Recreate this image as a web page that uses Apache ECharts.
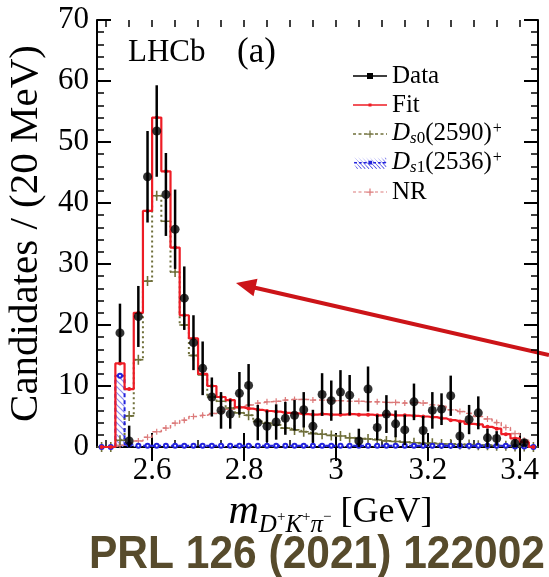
<!DOCTYPE html>
<html>
<head>
<meta charset="utf-8">
<script src="https://cdn.jsdelivr.net/npm/echarts@6/dist/echarts.min.js"></script>
<style>
  html, body { margin: 0; padding: 0; background: #fff; }
  #main { width: 549px; height: 577px; }
</style>
</head>
<body>
<div id="main"></div>
<script>
  // bin centres, 20 MeV bins
  const binCenters = [2.49, 2.51, 2.53, 2.55, 2.57, 2.59, 2.61, 2.63, 2.65, 2.67, 2.69, 2.71,
    2.73, 2.75, 2.77, 2.79, 2.81, 2.83, 2.85, 2.87, 2.89, 2.91, 2.93, 2.95,
    2.97, 2.99, 3.01, 3.03, 3.05, 3.07, 3.09, 3.11, 3.13, 3.15, 3.17, 3.19,
    3.21, 3.23, 3.25, 3.27, 3.29, 3.31, 3.33, 3.35, 3.37, 3.39, 3.41, 3.43]
  const dataVals = [null, null, 18.7, 1.0, 21.4, 44.3, 51.8, 41.4, 35.7, 24.4, 17.1, 12.9,
    8.2, 6.0, 5.4, 8.8, 10.1, 4.0, 3.4, 4.1, 4.7, 5.2, 6.1, 3.4,
    8.6, 7.6, 9.0, 8.5, 1.0, 9.5, 3.2, 5.4, 3.8, 2.8, 7.4, 2.7,
    6.0, 6.2, 8.4, 1.8, 4.5, 5.6, 1.5, 1.4, null, 0.6, 0.7, null]
  const dataErrs = [0, 0, 4.8, 2.5, 5.0, 7.5, 7.5, 6.8, 6.5, 5.2, 4.5, 4.4,
    3.2, 3.0, 2.4, 3.5, 3.5, 2.9, 2.6, 2.9, 2.7, 2.5, 2.9, 2.7,
    3.5, 3.3, 3.6, 3.3, 2.0, 3.7, 2.1, 3.1, 2.2, 2.5, 3.0, 2.4,
    3.0, 2.6, 3.3, 2.2, 2.4, 2.7, 1.5, 1.2, 0, 0.6, 0.6, 0]
  const fitVals = [0, 0, 13.7, 9.5, 22.0, 38.7, 54.0, 45.2, 32.7, 21.6, 17.8, 12.0,
    10.0, 8.2, 7.7, 6.5, 6.3, 6.1, 5.9, 5.8, 5.6, 5.5, 5.4, 5.3,
    5.4, 5.3, 5.3, 5.4, 5.3, 5.3, 5.2, 5.3, 5.2, 5.2, 5.1, 5.0,
    4.9, 4.7, 4.4, 4.2, 3.8, 3.7, 3.3, 3.0, 2.1, 1.4, 0.8, 0]
  const ds0Vals = [0, 0, 1.1, 5.1, 14.3, 27.2, 41.2, 37.0, 28.7, 20.0, 15.0, 11.8,
    8.2, 7.5, 6.4, 5.6, 5.2, 4.2, 3.9, 3.6, 3.1, 2.8, 2.5, 2.2,
    2.1, 1.9, 1.8, 1.5, 1.4, 1.3, 1.2, 1.0, 0.9, 0.8, 0.7, 0.6,
    0.6, 0.5, 0.5, 0.4, 0.4, 0.3, 0.3, 0.2, 0.2, 0.1, 0.1, 0]
  const ds1Vals = [0, 0, 11.7, 0.4, 0.2, 0.2, 0.2, 0.2, 0.2, 0.2, 0.2, 0.2,
    0.2, 0.2, 0.2, 0.2, 0.2, 0.2, 0.2, 0.2, 0.2, 0.2, 0.2, 0.2,
    0.2, 0.2, 0.2, 0.2, 0.2, 0.2, 0.2, 0.2, 0.2, 0.2, 0.2, 0.2,
    0.2, 0.2, 0.2, 0.2, 0.2, 0.2, 0.2, 0.2, 0.2, 0.1, 0.1, 0]
  const nrVals = [0, 0, 0.3, 0.6, 1.0, 1.6, 2.5, 3.1, 3.9, 4.4, 5.0, 5.2,
    5.5, 5.8, 6.2, 6.6, 6.9, 7.2, 7.4, 7.5, 7.7, 7.8, 7.8, 7.7,
    7.7, 7.6, 7.6, 7.5, 7.5, 7.4, 7.4, 7.3, 7.3, 7.2, 7.3, 7.2,
    6.9, 6.7, 6.1, 5.8, 5.5, 5.0, 4.6, 4.0, 3.2, 2.2, 1.1, 0]

  const xMajorTicks = [2.6, 2.8, 3.0, 3.2, 3.4]
  const xMinorTicks = [2.5, 2.55, 2.6, 2.65, 2.7, 2.75, 2.8, 2.85, 2.9, 2.95, 3.0, 3.05,
    3.1, 3.15, 3.2, 3.25, 3.3, 3.35, 3.4]
  const binHalf = 0.01

  const serif = "'Liberation Serif', 'DejaVu Serif', serif"
  const pairs = vals => binCenters.map((x, i) => [x, vals[i]])

  // hatch for the D_s1 component
  const hatch = document.createElement('canvas')
  hatch.width = 6
  hatch.height = 6
  const hg = hatch.getContext('2d')
  hg.strokeStyle = '#8c8cf2'
  hg.lineWidth = 1.2
  hg.beginPath()
  hg.moveTo(0, 0); hg.lineTo(6, 6)
  hg.moveTo(-3, 3); hg.lineTo(3, 9)
  hg.moveTo(3, -3); hg.lineTo(9, 3)
  hg.stroke()

  // legend icons (34 x 12 box)
  const corners = 'M0,0h0.01v0.01h-0.01Z M34,12h-0.01v-0.01h0.01Z '
  function dashes(dash, gap, h) {
    let p = ''
    for (let x = 0; x < 34; x += dash + gap) {
      p += 'M' + x + ',' + (6 - h / 2) + 'h' + Math.min(dash, 34 - x) + 'v' + h + 'h-' + Math.min(dash, 34 - x) + 'Z '
    }
    return p
  }
  const crossIcon = 'M16.4,2.5h1.2v3h3v1.2h-3v3h-1.2v-3h-3v-1.2h3Z '
  const iconData = 'path://' + corners + 'M0,5.2H34V6.8H0Z M14,3H20V9H14Z'
  const iconFit = 'path://' + corners + 'M0,5.3H34V6.7H0Z M15.5,4.5H18.5V7.5H15.5Z'
  const iconDs0 = 'path://' + corners + dashes(3, 2.5, 1.3) + crossIcon
  let hatchIcon = ''
  for (let x = -12; x < 34; x += 4) {
    hatchIcon += 'M' + Math.max(x, 0) + ',' + (x < 0 ? -x : 0) + 'L' + Math.min(x + 12, 34) + ',' + (x + 12 > 34 ? 34 - x : 12) + 'l-0.6,0.6Z '
  }
  const iconDs1 = 'path://' + corners + dashes(3, 2, 1.4) + hatchIcon + 'M15,4H19V8H15Z'
  const iconNR = 'path://' + corners + dashes(3, 2.5, 1.0) + crossIcon

  const legendLabels = {
    Data: 'Data',
    Fit: 'Fit',
    Ds0: '{i|D}{si|s}{sb|0}{n|(2590)}{sp|+}',
    Ds1: '{i|D}{si|s}{sb|1}{n|(2536)}{sp|+}',
    NR: 'NR'
  }

  function histSeries(name, vals, color, type, width, symbol, size, z) {
    return {
      name: name,
      type: 'line',
      step: 'middle',
      data: pairs(vals),
      symbol: symbol,
      symbolSize: size,
      showAllSymbol: true,
      itemStyle: { color: color },
      lineStyle: { color: color, width: width, type: type },
      z: z,
      silent: true
    }
  }

  const chart = echarts.init(document.getElementById('main'))

  const axisLineStyle = { color: '#000', width: 2 }

  chart.setOption({
    animation: false,
    backgroundColor: '#fff',
    grid: [
      { left: 97, right: 11, top: 20, bottom: 130, outerBoundsMode: 'none' },
      { left: 97, right: 11, top: 20, bottom: 130, outerBoundsMode: 'none' }
    ],
    legend: {
      orient: 'vertical',
      left: 348,
      top: 58,
      itemWidth: 34,
      itemHeight: 12,
      itemGap: 3,
      selectedMode: false,
      formatter: name => legendLabels[name],
      textStyle: {
        fontFamily: serif, fontSize: 25, color: '#000', lineHeight: 26,
        rich: {
          i: { fontFamily: serif, fontSize: 25, fontStyle: 'italic', lineHeight: 26, verticalAlign: 'top', color: '#000' },
          n: { fontFamily: serif, fontSize: 25, lineHeight: 26, verticalAlign: 'top', color: '#000' },
          si: { fontFamily: serif, fontSize: 17, fontStyle: 'italic', lineHeight: 17, verticalAlign: 'top', padding: [9, 0, 0, 0], color: '#000' },
          sb: { fontFamily: serif, fontSize: 17, lineHeight: 17, verticalAlign: 'top', padding: [9, 0, 0, 0], color: '#000' },
          sp: { fontFamily: serif, fontSize: 16, lineHeight: 16, verticalAlign: 'top', padding: [0, 0, 0, 1], color: '#000' }
        }
      },
      data: [
        { name: 'Data', icon: iconData, itemStyle: { color: '#000' } },
        { name: 'Fit', icon: iconFit, itemStyle: { color: '#ee1c25' } },
        { name: 'Ds0', icon: iconDs0, itemStyle: { color: '#6f6f3a' } },
        { name: 'Ds1', icon: iconDs1, itemStyle: { color: '#2222dd' } },
        { name: 'NR', icon: iconNR, itemStyle: { color: '#dc7a7a' } }
      ]
    },
    xAxis: [
      {
        gridIndex: 0, type: 'value', position: 'bottom', min: 2.48, max: 3.44,
        axisLine: { show: true, lineStyle: axisLineStyle },
        axisTick: { show: true, inside: true, length: 14, customValues: xMajorTicks, lineStyle: axisLineStyle },
        axisLabel: { customValues: xMajorTicks, color: '#000', fontFamily: serif, fontSize: 31, margin: 8 },
        splitLine: { show: false },
        name: '{m|m}{s|D}{ss|+}{s|K}{ss|+}{s|π}{ss|−}{n| [GeV]}',
        nameLocation: 'middle',
        nameGap: 35,
        nameTextStyle: {
          color: '#000',
          padding: [0, 0, 0, 26],
          rich: {
            m: { fontFamily: serif, fontSize: 42, fontStyle: 'italic', lineHeight: 42, verticalAlign: 'top', color: '#000' },
            s: { fontFamily: serif, fontSize: 25, fontStyle: 'italic', lineHeight: 25, verticalAlign: 'top', padding: [22, 0, 0, 0], color: '#000' },
            ss: { fontFamily: serif, fontSize: 15, lineHeight: 15, verticalAlign: 'top', padding: [19, 0, 0, 0], color: '#000' },
            n: { fontFamily: serif, fontSize: 36, lineHeight: 36, verticalAlign: 'top', padding: [4, 0, 0, 0], color: '#000' }
          }
        }
      },
      {
        gridIndex: 0, type: 'value', position: 'top', min: 2.48, max: 3.44,
        axisLine: { show: true, lineStyle: axisLineStyle },
        axisTick: { show: true, inside: true, length: 14, customValues: xMajorTicks, lineStyle: axisLineStyle },
        axisLabel: { show: false, customValues: xMajorTicks },
        splitLine: { show: false }
      },
      {
        gridIndex: 1, type: 'value', position: 'bottom', min: 2.48, max: 3.44,
        axisLine: { show: false },
        axisTick: { show: true, inside: true, length: 7, customValues: xMinorTicks, lineStyle: { color: '#000', width: 1.5 } },
        axisLabel: { show: false, customValues: xMinorTicks },
        splitLine: { show: false }
      },
      {
        gridIndex: 1, type: 'value', position: 'top', min: 2.48, max: 3.44,
        axisLine: { show: false },
        axisTick: { show: true, inside: true, length: 7, customValues: xMinorTicks, lineStyle: { color: '#000', width: 1.5 } },
        axisLabel: { show: false, customValues: xMinorTicks },
        splitLine: { show: false }
      }
    ],
    yAxis: [
      {
        gridIndex: 0, type: 'value', position: 'left', min: 0, max: 70, interval: 10,
        axisLine: { show: true, lineStyle: axisLineStyle },
        axisTick: { show: true, inside: true, length: 14, lineStyle: axisLineStyle },
        minorTick: { show: true, splitNumber: 5, length: 7, lineStyle: { color: '#000', width: 1.5 } },
        axisLabel: { color: '#000', fontFamily: serif, fontSize: 31, margin: 8 },
        splitLine: { show: false },
        name: 'Candidates / (20 MeV)',
        nameLocation: 'middle',
        nameGap: 45,
        nameTextStyle: { color: '#000', fontFamily: serif, fontSize: 41 }
      },
      {
        gridIndex: 0, type: 'value', position: 'right', min: 0, max: 70, interval: 10,
        axisLine: { show: true, lineStyle: axisLineStyle },
        axisTick: { show: true, inside: true, length: 14, lineStyle: axisLineStyle },
        minorTick: { show: true, splitNumber: 5, length: 7, lineStyle: { color: '#000', width: 1.5 } },
        axisLabel: { show: false },
        splitLine: { show: false }
      },
      { gridIndex: 1, type: 'value', min: 0, max: 70, show: false }
    ],
    series: [
      {
        name: 'Ds1',
        type: 'custom',
        silent: true,
        z: 1,
        data: pairs(ds1Vals),
        renderItem: (params, api) => {
          const x = api.value(0)
          const v = api.value(1)
          const p0 = api.coord([x - binHalf, v])
          const p1 = api.coord([x + binHalf, 0])
          return {
            type: 'rect',
            shape: { x: p0[0], y: p0[1], width: p1[0] - p0[0], height: p1[1] - p0[1] },
            style: { fill: { image: hatch, repeat: 'repeat' } }
          }
        }
      },
      histSeries('NR', nrVals, '#dc7a7a', [4, 3], 1.5, 'path://M4,0H6V4H10V6H6V10H4V6H0V4H4Z', 6, 2),
      histSeries('Ds0', ds0Vals, '#6f6f3a', [2, 3], 2, 'path://M4.2,0H5.8V4.2H10V5.8H5.8V10H4.2V5.8H0V4.2H4.2Z', 10, 3),
      histSeries('Ds1', ds1Vals, '#2222dd', [4, 3], 2, 'emptyCircle', 4, 4),
      histSeries('Fit', fitVals, '#ee1c25', 'solid', 2.2, 'circle', 4, 5),
      {
        name: 'Data',
        type: 'custom',
        silent: true,
        z: 6,
        data: binCenters.map((x, i) => [x, dataVals[i], dataErrs[i]]).filter(d => d[1] !== null),
        renderItem: (params, api) => {
          const x = api.value(0)
          const v = api.value(1)
          const e = api.value(2)
          const top = api.coord([x, v + e])
          const bot = api.coord([x, Math.max(v - e, 0)])
          return {
            type: 'line',
            shape: { x1: top[0], y1: top[1], x2: bot[0], y2: bot[1] },
            style: { stroke: '#000', lineWidth: 2.5 }
          }
        }
      },
      {
        name: 'Data',
        type: 'scatter',
        silent: true,
        z: 7,
        symbol: 'circle',
        symbolSize: 9,
        itemStyle: { color: '#000' },
        data: binCenters.map((x, i) => [x, dataVals[i]]).filter(d => d[1] !== null)
      }
    ],
    graphic: [
      { type: 'text', x: 128, y: 53, style: { text: 'LHCb', fontFamily: serif, fontSize: 31, fill: '#000', verticalAlign: 'middle' } },
      { type: 'text', x: 237, y: 53, style: { text: '(a)', fontFamily: serif, fontSize: 35, fill: '#000', verticalAlign: 'middle' } },
      { type: 'line', shape: { x1: 549, y1: 355, x2: 254, y2: 287.5 }, style: { stroke: '#cc1418', lineWidth: 4 } },
      { type: 'polygon', shape: { points: [[236, 283], [257.5, 278.7], [253.5, 296.3]] }, style: { fill: '#cc1418' } },
      {
        type: 'text', x: 89, y: 555, scaleY: 1.08,
        style: { text: 'PRL 126 (2021) 122002', fontFamily: "'Liberation Sans', Arial, sans-serif", fontWeight: 'bold', fontSize: 42.5, fill: '#574b2c', verticalAlign: 'middle' }
      }
    ]
  })
</script>
</body>
</html>
